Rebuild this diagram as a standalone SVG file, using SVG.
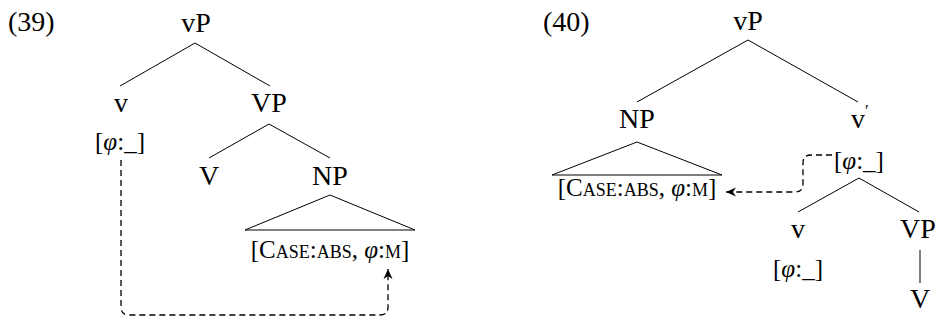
<svg xmlns="http://www.w3.org/2000/svg" width="935" height="320" viewBox="0 0 935 320">
  <style>
    text { font-family: "Liberation Serif", "Times New Roman", serif; font-size: 28px; fill: #000; }
    .mid { text-anchor: middle; }
    .feat { font-size: 25px; }
    .sc { font-size: 18px; }
    .it { font-style: italic; }
    .edge { stroke: #000; stroke-width: 1; fill: none; }
    .tri { stroke: #000; stroke-width: 1; fill: none; stroke-linejoin: miter; }
    .agree { stroke: #000; stroke-width: 1.3; fill: none; stroke-dasharray: 6 4; }
  </style>
  <defs>
    <marker id="stealth" viewBox="-11 -5 12 10" refX="0" refY="0" markerWidth="12" markerHeight="10" markerUnits="userSpaceOnUse" orient="auto">
      <path d="M0,0 L-10,-4.5 L-7,0 L-10,4.5 Z" fill="#000"/>
    </marker>
  </defs>

  <!-- Example (39) -->
  <g id="ex39-label"><text x="8" y="31">(39)</text></g>
  <g id="ex39-vP"><text class="mid" x="196" y="32">vP</text></g>
  <g id="ex39-v"><text class="mid" x="121" y="112">v</text></g>
  <g id="ex39-v-feat"><text class="mid feat" x="120" y="150">[<tspan class="it">φ</tspan>:_]</text></g>
  <g id="ex39-VP"><text class="mid" x="269" y="112">VP</text></g>
  <g id="ex39-V"><text class="mid" x="209" y="185">V</text></g>
  <g id="ex39-NP">
    <text class="mid" x="330" y="185">NP</text>
    <path class="tri" d="M330,195 L245,230 L415,230 Z"/>
    <text class="mid feat" x="330" y="258">[C<tspan class="sc">ASE</tspan>:<tspan class="sc">ABS</tspan>, <tspan class="it">φ</tspan>:<tspan class="sc">M</tspan>]</text>
  </g>

  <!-- Example (40) -->
  <g id="ex40-label"><text x="543" y="31">(40)</text></g>
  <g id="ex40-vP"><text class="mid" x="748" y="30">vP</text></g>
  <g id="ex40-NP">
    <text class="mid" x="637" y="128">NP</text>
    <path class="tri" d="M637,142 L552,175 L722,175 Z"/>
    <text class="mid feat" x="637" y="196">[C<tspan class="sc">ASE</tspan>:<tspan class="sc">ABS</tspan>, <tspan class="it">φ</tspan>:<tspan class="sc">M</tspan>]</text>
  </g>
  <g id="ex40-vbar">
    <text class="mid" x="858" y="128">v</text>
    <text x="865" y="116" style="font-size:17px">′</text>
    <text class="feat" x="834" y="169">[<tspan class="it">φ</tspan>:_]</text>
  </g>
  <g id="ex40-v">
    <text class="mid" x="798" y="238">v</text>
    <text class="mid feat" x="798" y="277">[<tspan class="it">φ</tspan>:_]</text>
  </g>
  <g id="ex40-VP"><text class="mid" x="918" y="238">VP</text></g>
  <g id="ex40-V"><text class="mid" x="920" y="308">V</text></g>

  <!-- Tree branches and agreement arrows -->
  <g id="connectors">
    <path class="edge" d="M195,43 L120,86 M195,43 L270,86"/>
    <path class="edge" d="M269,124 L209,158 M269,124 L330,158"/>
    <path class="edge" d="M748,40 L637,102 M748,40 L858,102"/>
    <path class="edge" d="M859,178 L798,212 M859,178 L919,212"/>
    <path class="edge" d="M920,250 L920,283"/>
    <path class="agree" marker-end="url(#stealth)" d="M121,160 L121,307 Q121,315 129,315 L380,315 Q388,315 388,307 L388,269"/>
    <path class="agree" marker-end="url(#stealth)" d="M832,155 L811,155 Q803,155 803,163 L803,184 Q803,192 795,192 L726,192"/>
  </g>
</svg>
